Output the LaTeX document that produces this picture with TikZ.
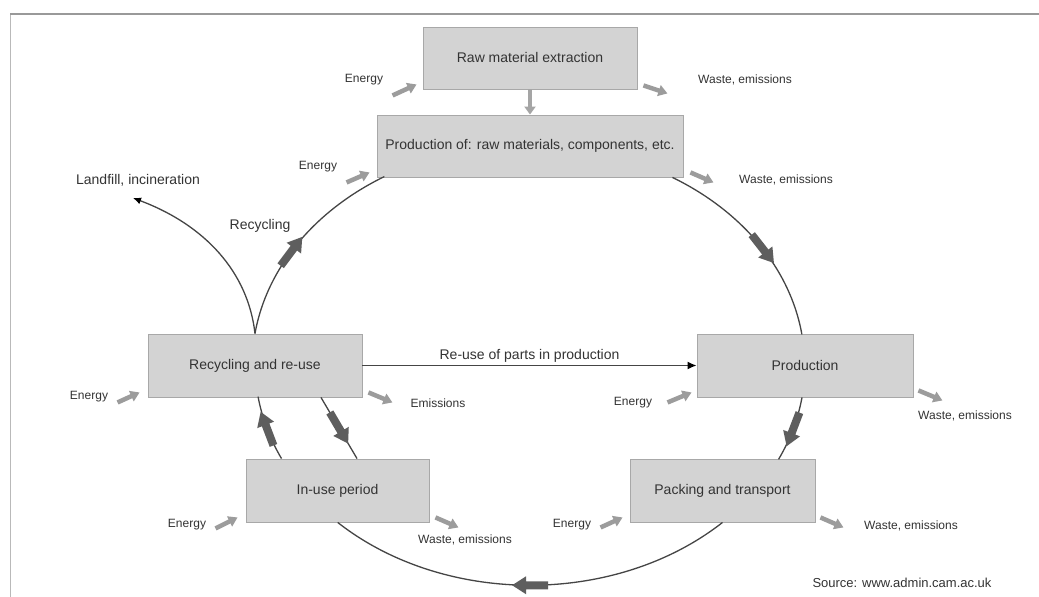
\documentclass[tikz,border=0pt]{standalone}
\usepackage{fontspec}
\setmainfont{Liberation Sans}
\usetikzlibrary{arrows.meta,decorations.markings,calc}
\definecolor{boxfill}{HTML}{D3D3D3}
\definecolor{boxdraw}{HTML}{A8A8A8}
\definecolor{txt}{HTML}{333333}
\definecolor{cyccol}{HTML}{454545}
\definecolor{fatcol}{HTML}{5E5E5E}
\definecolor{smallcol}{HTML}{9C9C9C}
\definecolor{rawcol}{HTML}{A5A5A5}
\begin{document}
\begin{tikzpicture}[x=1pt,y=1pt,
  box/.style={draw=boxdraw, line width=0.9pt, fill=boxfill, inner sep=0pt,
    font=\fontsize{14}{16}\selectfont, text=txt},
  lbl/.style={inner sep=1pt, font=\fontsize{12}{14}\selectfont, text=txt},
  big/.style={inner sep=1pt, font=\fontsize{14}{16}\selectfont, text=txt},
  cyc/.style={draw=cyccol, line width=1.3pt},
  fatmark/.style={postaction={decorate}, decoration={markings,
    mark=at position #1 with {\fill[fatcol] (-18,4)--(4,4)--(4,9)--(18,0)--(4,-9)--(4,-4)--(-18,-4)--cycle;}}},
  sarr/.style={draw=smallcol, line width=4.5pt, -{Triangle[width=11pt,length=9pt]}}
]
\useasboundingbox[fill=white] (0,0) rectangle (1039,597);
% frame
\draw[draw=gray!55, line width=1pt] (10,0) -- (10,583);
\draw[draw=gray!80, line width=1.2pt] (10,583) -- (1039,583);

% boxes
\node[box, minimum width=214pt, minimum height=62pt] (raw) at (530,539) {Raw material extraction};
\node[box, minimum width=306pt, minimum height=62pt] (prodof) at (530,451) {Production of: raw materials, components, etc.};
\node[box, minimum width=214pt, minimum height=63pt] (recyc) at (255,231.5) {Recycling and re-use};
\node[box, minimum width=183pt, minimum height=63pt] (inuse) at (337.5,106.5) {In-use period};
\node[box, minimum width=216pt, minimum height=63pt] (prod) at (805,231.5) {Production};
\node[box, minimum width=185pt, minimum height=63pt] (pack) at (722.5,106.5) {Packing and transport};

% free labels
\node[big] (lf) at (138,417) {Landfill, incineration};
\node[big] (recl) at (260,371) {Recycling};
\node[inner sep=1pt, font=\fontsize{13}{15}\selectfont, text=txt] (src) at (902,14) {Source: www.admin.cam.ac.uk};

\node[lbl] (e1) at (364,517) {Energy};
\node[lbl] (e2) at (318,430) {Energy};
\node[lbl] (w1) at (745,517) {Waste, emissions};
\node[lbl] (w2) at (786,417) {Waste, emissions};
\node[lbl] (e3) at (89,200) {Energy};
\node[lbl] (em) at (438,194) {Emissions};
\node[lbl] (e4) at (187,72) {Energy};
\node[lbl] (w3) at (465,57) {Waste, emissions};
\node[lbl] (e5) at (633,194) {Energy};
\node[lbl] (w4) at (965,181) {Waste, emissions};
\node[lbl] (e6) at (572,72) {Energy};
\node[lbl] (w5) at (911,71) {Waste, emissions};

% main cycle
\draw[cyc, fatmark=0.43] (recyc.north) arc[start angle=171.9, end angle=121.3, x radius=275, y radius=220];
\draw[cyc, fatmark=0.55] ([xshift=142.5pt]prodof.south) arc[start angle=58.7, end angle=8.1, x radius=275, y radius=220];
\draw[cyc, fatmark=0.5] ([xshift=-3pt]prod.south) arc[start angle=-8.4, end angle=-25.3, x radius=275, y radius=220];
\draw[cyc, fatmark=0.5] (pack.south) arc[start angle=-45.6, end angle=-134.4, x radius=275, y radius=220];
\draw[cyc, fatmark=0.5] ([xshift=-56pt]inuse.north) arc[start angle=-154.7, end angle=-171.6, x radius=275, y radius=220];
\draw[cyc, fatmark=0.5] ([xshift=66pt]recyc.south) -- ([xshift=19.5pt]inuse.north);

% landfill
\coordinate (lfend) at (133,399);
\draw[cyc, -{Latex[length=8pt,width=7pt,color=black]}] (recyc.north) .. controls (248,325) and (205,372) .. (lfend);

% re-use
\draw[draw=cyccol, line width=1.3pt, -{Latex[length=9pt,width=8pt,color=black]}] (recyc.east) -- node[big, above=1pt] (reuse) {Re-use of parts in production} (prod.west);

% raw -> production of
\draw[draw=rawcol, line width=4pt, -{Triangle[width=11pt,length=8pt]}] (raw.south) -- (prodof.north);

% small energy / waste arrows
\draw[sarr] ([shift={(-30,-6)}]raw.south west) -- ([shift={(-6,5)}]raw.south west);
\draw[sarr] ([shift={(-30,-5)}]prodof.south west) -- ([shift={(-7,5)}]prodof.south west);
\draw[sarr] ([shift={(6,4)}]raw.south east) -- ([shift={(30,-4)}]raw.south east);
\draw[sarr] ([shift={(7,5)}]prodof.south east) -- ([shift={(30,-5)}]prodof.south east);
\draw[sarr] ([shift={(-30,-5)}]recyc.south west) -- ([shift={(-8,5)}]recyc.south west);
\draw[sarr] ([shift={(6,5)}]recyc.south east) -- ([shift={(30,-5)}]recyc.south east);
\draw[sarr] ([shift={(-30,-6)}]inuse.south west) -- ([shift={(-8,5)}]inuse.south west);
\draw[sarr] ([shift={(6,5)}]inuse.south east) -- ([shift={(29,-5)}]inuse.south east);
\draw[sarr] ([shift={(-29,-5)}]prod.south west) -- ([shift={(-5,5)}]prod.south west);
\draw[sarr] ([shift={(5,7)}]prod.south east) -- ([shift={(29,-3)}]prod.south east);
\draw[sarr] ([shift={(-29,-5)}]pack.south west) -- ([shift={(-7,5)}]pack.south west);
\draw[sarr] ([shift={(5,5)}]pack.south east) -- ([shift={(28,-5)}]pack.south east);
\end{tikzpicture}
\end{document}
